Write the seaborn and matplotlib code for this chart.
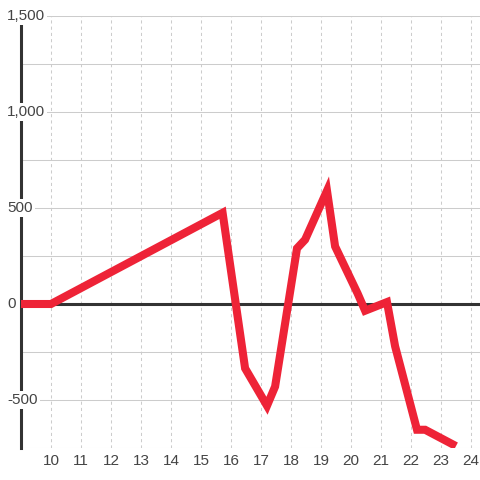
import matplotlib
matplotlib.use('Agg')
import matplotlib.pyplot as plt
import seaborn as sns

# values
hours = [9, 10, 15.72, 16.47, 17.2, 17.47, 18.2, 18.47, 19.2, 19.47, 20.22, 20.47, 21.2, 21.47, 22.2, 22.47, 23.5]
values = [0, 0, 475, -335, -530, -430, 290, 335, 590, 300, 55, -35, 10, -220, -655, -655, -740]
x_ticks = list(range(10, 25))
y_ticks = [-500, 0, 500, 1000, 1500]
y_tick_labels = ['-500', '0', '500', '1,000', '1,500']
y_grid = list(range(-750, 1501, 250))

sns.set_style('white')
plt.rcParams['font.family'] = ['Liberation Sans', 'DejaVu Sans']

fig = plt.figure(figsize=(4.8, 4.8), dpi=100)
ax = fig.add_axes([21 / 480, 32 / 480, 459 / 480, 432 / 480])

# grid
for v in y_grid:
    ax.axhline(v, color='#cccccc', lw=0.75, zorder=1)
for v in x_ticks:
    ax.axvline(v, color='#cccccc', lw=0.75, ls=(0, (3, 3)), zorder=1)
ax.axhline(0, color='#333333', lw=2.2, zorder=1.6)

sns.lineplot(x=hours, y=values, ax=ax, color='#ee2337', lw=5.8,
             estimator=None, sort=False, zorder=3)
for ln in ax.get_lines():
    ln.set_solid_joinstyle('miter')
    ln.set_solid_capstyle('butt')

ax.set_xlim(9, 24.3)
ax.set_ylim(-750, 1500)

for s in ['top', 'right', 'bottom']:
    ax.spines[s].set_visible(False)
ax.spines['left'].set_color('#333333')
ax.spines['left'].set_linewidth(2.2)
ax.spines['left'].set_zorder(2)

ax.set_xticks(x_ticks)
ax.set_xticklabels([str(t) for t in x_ticks])
ax.set_yticks([])
ax.tick_params(axis='x', length=0, pad=4.5, labelsize=11, labelcolor='#444444')

for t, lab in zip(y_ticks, y_tick_labels):
    ax.text(-14 / 459, t, lab, transform=ax.get_yaxis_transform(),
            ha='left', va='center', fontsize=11, color='#444444', zorder=5,
            bbox=dict(facecolor='white', edgecolor='none', pad=1.5))

fig.savefig('out.png', dpi=100, facecolor='white')
